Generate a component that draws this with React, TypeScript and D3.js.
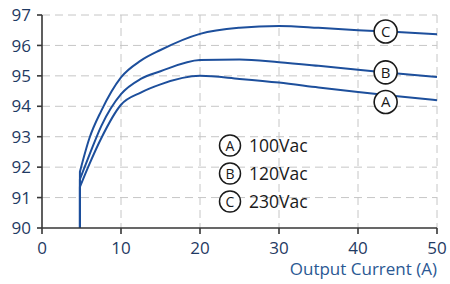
import React from 'react';
import * as d3 from 'd3';

const currents = [4.8, 6, 7.5, 10, 12.5, 15, 20, 25, 30, 35, 40, 45, 50];
const effA = [91.35, 92.1, 92.95, 94.05, 94.45, 94.72, 95.0, 94.9, 94.78, 94.62, 94.47, 94.33, 94.2];
const effB = [91.6, 92.4, 93.35, 94.4, 94.9, 95.15, 95.52, 95.54, 95.45, 95.33, 95.2, 95.08, 94.96];
const effC = [91.85, 92.95, 93.85, 94.95, 95.5, 95.85, 96.38, 96.58, 96.64, 96.58, 96.5, 96.44, 96.37];
const seriesKeys = ['A', 'B', 'C'];
const seriesNames = ['100Vac', '120Vac', '230Vac'];
const xTicks = [0, 10, 20, 30, 40, 50];
const yTicks = [90, 91, 92, 93, 94, 95, 96, 97];
const labelAt = 43.5;

const W = 450;
const H = 284;
const margin = { top: 15, right: 13, bottom: 56, left: 42 };

const App: React.FC = () => {
  const x = d3.scaleLinear().domain([0, 50]).range([margin.left, W - margin.right]);
  const y = d3.scaleLinear().domain([90, 97]).range([H - margin.bottom, margin.top]);

  const line = d3
    .line<[number, number]>()
    .x((d) => x(d[0]))
    .y((d) => y(d[1]))
    .curve(d3.curveMonotoneX);

  const allSeries = [effA, effB, effC];
  const series = allSeries.map((vals) => currents.map((c, i) => [c, vals[i]] as [number, number]));

  const blue = '#1d4f9c';
  const tickColor = '#1f3a63';
  const titleColor = '#2a5893';
  const font = "'Open Sans', 'Noto Sans', sans-serif";

  const interp = (vals: number[], xv: number) => {
    const i = d3.bisectLeft(currents, xv);
    const t = (xv - currents[i - 1]) / (currents[i] - currents[i - 1]);
    return vals[i - 1] + t * (vals[i] - vals[i - 1]);
  };

  return (
    <svg width={W} height={H} style={{ position: 'absolute', left: 0, top: 0, background: '#fff' }}>
      {/* grid */}
      <g stroke="#c6c6c6" strokeWidth={1} strokeDasharray="8,5">
        {yTicks.slice(1).map((t) => (
          <line key={'gy' + t} x1={x(0)} x2={x(50)} y1={y(t)} y2={y(t)} />
        ))}
        {xTicks.slice(1).map((t) => (
          <line key={'gx' + t} x1={x(t)} x2={x(t)} y1={y(97)} y2={y(90)} />
        ))}
      </g>

      {/* curves */}
      {series.map((pts, i) => (
        <path
          key={'s' + i}
          d={`M${x(pts[0][0])},${y(90)}L` + (line(pts) || '').slice(1)}
          fill="none"
          stroke={blue}
          strokeWidth={2}
        />
      ))}

      {/* axes */}
      <g stroke="#363636" strokeWidth={1.6}>
        <line x1={x(0)} x2={x(0)} y1={y(97)} y2={y(90)} />
        <line x1={x(0)} x2={x(50)} y1={y(90)} y2={y(90)} />
        {yTicks.map((t) => (
          <line key={'ty' + t} x1={x(0) - 5} x2={x(0)} y1={y(t)} y2={y(t)} />
        ))}
        {xTicks.map((t) => (
          <line key={'tx' + t} x1={x(t)} x2={x(t)} y1={y(90)} y2={y(90) + 6} />
        ))}
      </g>
      <g fill={tickColor} fontFamily={font} fontSize={17}>
        {yTicks.map((t) => (
          <text key={'ly' + t} x={x(0) - 11} y={y(t)} dy="0.36em" textAnchor="end">
            {t}
          </text>
        ))}
        {xTicks.map((t) => (
          <text key={'lx' + t} x={x(t)} y={y(90) + 26} textAnchor="middle">
            {t}
          </text>
        ))}
      </g>
      <text x={x(50)} y={H - 9} textAnchor="end" fill={titleColor} fontFamily={font} fontSize={17}>
        Output Current (A)
      </text>

      {/* circled labels on curves */}
      {seriesKeys.map((k, i) => {
        const cx = x(labelAt);
        const cy = y(interp(allSeries[i], labelAt)) + (k === 'A' ? 7 : 0);
        return (
          <g key={'c' + k}>
            <circle cx={cx} cy={cy} r={11.5} fill="#fff" stroke="#1a1a1a" strokeWidth={1.6} />
            <text x={cx} y={cy} dy="0.36em" textAnchor="middle" fontFamily={font} fontSize={15} fill="#1a1a1a">
              {k}
            </text>
          </g>
        );
      })}

      {/* legend */}
      {seriesKeys.map((k, i) => {
        const cy = 145.5 + i * 28;
        return (
          <g key={'lg' + k}>
            <circle cx={230} cy={cy} r={10.5} fill="#fff" stroke="#1a1a1a" strokeWidth={1.5} />
            <text x={230} y={cy} dy="0.36em" textAnchor="middle" fontFamily={font} fontSize={14} fill="#1a1a1a">
              {k}
            </text>
            <text x={249} y={cy} dy="0.36em" fontFamily={font} fontSize={17.5} fill="#1a1a1a">
              {seriesNames[i]}
            </text>
          </g>
        );
      })}
    </svg>
  );
};

export default App;
